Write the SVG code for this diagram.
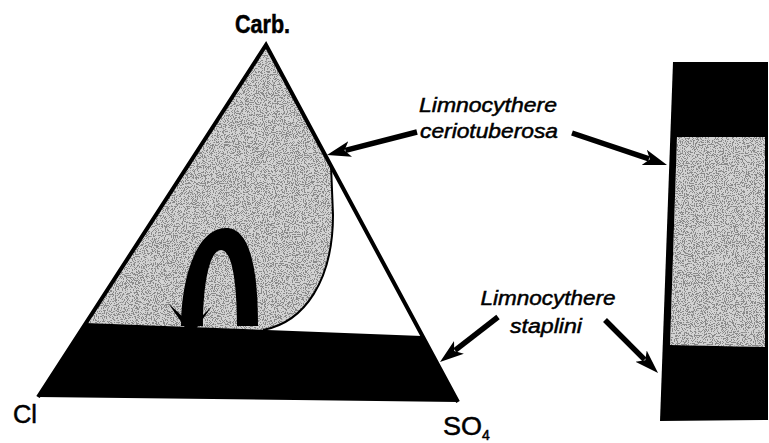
<svg xmlns="http://www.w3.org/2000/svg" width="769" height="443" viewBox="0 0 769 443">
  <style>
    .lbl { font-family: "Liberation Sans", Arial, sans-serif; fill: #000; stroke: #000; stroke-width: 0.5; }
    .it { font-style: italic; font-size: 21px; text-anchor: middle; }
    .ax { font-size: 25px; }
    .stip { fill: #d2d2d2; }
    .blk { fill: #000; }
    .conn { stroke: #000; stroke-width: 5.5; fill: none; stroke-linecap: butt; marker-end: url(#ah); }
  </style>
  <defs>
    <marker id="ah" viewBox="0 0 24 18" refX="5" refY="9" markerWidth="24" markerHeight="18" markerUnits="userSpaceOnUse" orient="auto">
      <path d="M0,1 L24,9 L0,17 L6,9 Z" fill="#000"/>
    </marker>
    <filter id="grain" x="0" y="0" width="1" height="1">
      <feTurbulence type="fractalNoise" baseFrequency="0.9" numOctaves="2" seed="7" result="n"/>
      <feColorMatrix in="n" type="matrix" values="0 0 0 0 0.25  0 0 0 0 0.25  0 0 0 0 0.25  0 0 0 -20 9.6" result="dots"/>
      <feComposite in="dots" in2="SourceGraphic" operator="in" result="d2"/>
      <feMerge><feMergeNode in="SourceGraphic"/><feMergeNode in="d2"/></feMerge>
    </filter>
  </defs>
  <rect width="769" height="443" fill="#fff"/>

  <g id="gray-field">
    <path class="stip" filter="url(#grain)" d="M266,45 L86,323 L263,330 C305,322 333,280 333,215 L331,165 Z"/>
    <path d="M263,330 C305,322 333,280 333,215 L331,165" fill="none" stroke="#000" stroke-width="2"/>
  </g>

  <g id="band">
    <path class="blk" d="M86,323 L422,336 L458,402 L38,397 Z"/>
  </g>

  <g id="triangle">
    <path d="M38,397 L266,45 L458,402" fill="none" stroke="#000" stroke-width="4" stroke-linejoin="miter"/>
  </g>

  <g id="loop">
    <path class="blk" fill-rule="evenodd" d="M181,326 C181,280 196,228 226,228 C251,228 258,272 258,326 Z M203,326 C203,282 210,250 221,250 C232,250 237,282 237,326 Z"/>
    <path class="blk" d="M168,303 L191,336 L212,306 L200,318 L184,318 Z"/>
  </g>

  <g id="column">
    <path class="blk" d="M673,62 L768,62 L768,420 L660,421 Z"/>
    <path class="stip" filter="url(#grain)" d="M677,137 L765,137 L765,347 L670,345 Z"/>
  </g>

  <g id="labels">
    <text class="lbl" x="235" y="33" font-size="25" font-weight="bold" textLength="55" lengthAdjust="spacingAndGlyphs">Carb.</text>
    <text class="lbl ax" x="13" y="423" textLength="24" lengthAdjust="spacingAndGlyphs">Cl</text>
    <text class="lbl ax" x="443" y="435" textLength="39" lengthAdjust="spacingAndGlyphs">SO</text>
    <text class="lbl" x="482" y="440" font-size="14">4</text>
    <text class="lbl it" x="488" y="112" textLength="138" lengthAdjust="spacingAndGlyphs">Limnocythere</text>
    <text class="lbl it" x="489" y="138" textLength="138" lengthAdjust="spacingAndGlyphs">ceriotuberosa</text>
    <text class="lbl it" x="548" y="305" textLength="135" lengthAdjust="spacingAndGlyphs">Limnocythere</text>
    <text class="lbl it" x="546" y="333" textLength="72" lengthAdjust="spacingAndGlyphs">staplini</text>
  </g>

  <g id="connectors">
    <line class="conn" x1="417" y1="132" x2="345.4" y2="150.3"/>
    <line class="conn" x1="572" y1="133" x2="649" y2="158.9"/>
    <line class="conn" x1="498" y1="317" x2="455" y2="350.4"/>
    <line class="conn" x1="605" y1="320" x2="644.6" y2="359.6"/>
  </g>
</svg>
